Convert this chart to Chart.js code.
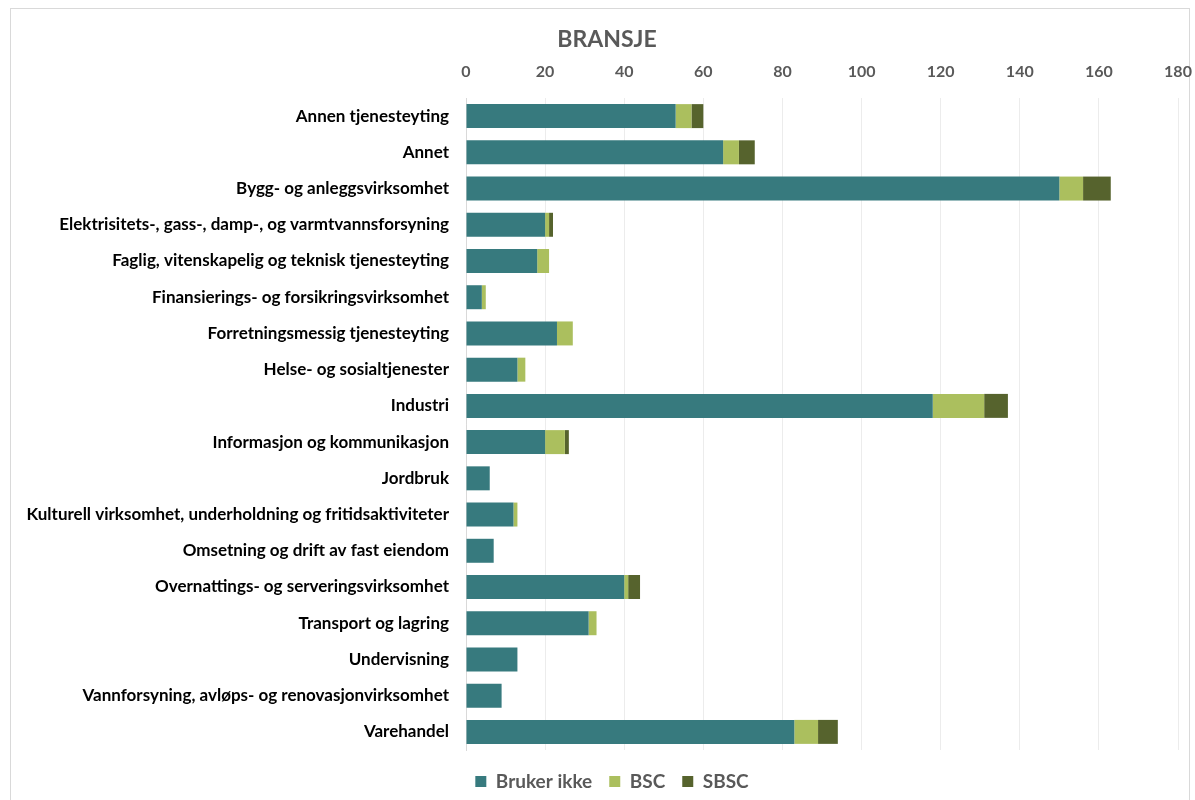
<!DOCTYPE html>
<html>
<head>
<meta charset="utf-8">
<script src="https://cdn.jsdelivr.net/npm/chart.js@4"></script>
<style>
  body { margin: 0; background: #fff; }
  #frame { position: absolute; left: 10px; top: 8px; width: 1178px; height: 800px; border: 1px solid #d9d9d9; }
  #wrap { position: absolute; left: 0; top: 0; width: 1195px; height: 800px; }
</style>
</head>
<body>
<div id="frame"></div>
<div id="wrap"><canvas id="bransjeChart"></canvas></div>
<script>
// data
const categories = [
    'Annen tjenesteyting',
    'Annet',
    'Bygg- og anleggsvirksomhet',
    'Elektrisitets-, gass-, damp-, og varmtvannsforsyning',
    'Faglig, vitenskapelig og teknisk tjenesteyting',
    'Finansierings- og forsikringsvirksomhet',
    'Forretningsmessig tjenesteyting',
    'Helse- og sosialtjenester',
    'Industri',
    'Informasjon og kommunikasjon',
    'Jordbruk',
    'Kulturell virksomhet, underholdning og fritidsaktiviteter',
    'Omsetning og drift av fast eiendom',
    'Overnattings- og serveringsvirksomhet',
    'Transport og lagring',
    'Undervisning',
    'Vannforsyning, avløps- og renovasjonvirksomhet',
    'Varehandel'
];
const brukerIkke = [53, 65, 150, 20, 18, 4, 23, 13, 118, 20, 6, 12, 7, 40, 31, 13, 9, 83];
const bsc = [4, 4, 6, 1, 3, 1, 4, 2, 13, 5, 0, 1, 0, 1, 2, 0, 0, 6];
const sbsc = [3, 4, 7, 1, 0, 0, 0, 0, 6, 1, 0, 0, 0, 3, 0, 0, 0, 5];
const xTicks = [0, 20, 40, 60, 80, 100, 120, 140, 160, 180];

const gray = '#595959';
const fontFamily = 'Lato, "Open Sans", sans-serif';

// fixed legend height so the legend sits a bit below the plot
const legendSpacer = {
    id: 'legendSpacer',
    beforeInit(chart) {
        const origFit = chart.legend.fit;
        chart.legend.fit = function () {
            origFit.bind(chart.legend)();
            this.height = 48;
        };
    },
    // title and legend sit a little right of the canvas centre
    afterLayout(chart) {
        if (chart.titleBlock) {
            chart.titleBlock.left += 12;
            chart.titleBlock.right += 12;
        }
        chart.legend.left += 17;
        chart.legend.right += 17;
        chart.legend.top += 5;
        chart.legend.bottom += 5;
    }
};

document.addEventListener('DOMContentLoaded', () => {
    const ctx = document.getElementById('bransjeChart').getContext('2d');
    new Chart(ctx, {
        type: 'bar',
        data: {
            labels: categories,
            datasets: [
                { label: 'Bruker ikke', data: brukerIkke, backgroundColor: '#377A7E' },
                { label: 'BSC', data: bsc, backgroundColor: '#ABBF5E' },
                { label: 'SBSC', data: sbsc, backgroundColor: '#56632D' }
            ]
        },
        options: {
            indexAxis: 'y',
            responsive: true,
            maintainAspectRatio: false,
            animation: false,
            barPercentage: 0.662,
            categoryPercentage: 1,
            layout: { padding: { left: 12, right: 17, top: 26, bottom: 2 } },
            scales: {
                x: {
                    position: 'top',
                    stacked: true,
                    min: 0,
                    max: 180,
                    afterBuildTicks: (s) => { s.ticks = xTicks.map(v => ({ value: v })); },
                    afterFit: (s) => { s.height = 44.4; s.paddingRight = 0; },
                    border: { display: false },
                    grid: { color: '#ececec', drawTicks: false },
                    ticks: {
                        padding: 17,
                        color: gray,
                        font: { family: fontFamily, size: 16, weight: 'bold' }
                    }
                },
                y: {
                    stacked: true,
                    afterFit: (s) => { s.width = 454; },
                    border: { color: '#d9d9d9' },
                    grid: { display: false },
                    ticks: {
                        padding: 9,
                        color: '#000',
                        autoSkip: false,
                        font: { family: fontFamily, size: 17, weight: 'bold' }
                    }
                }
            },
            plugins: {
                title: {
                    display: true,
                    text: 'BRANSJE',
                    color: gray,
                    padding: 0,
                    font: { family: fontFamily, size: 23, weight: 'bold' }
                },
                legend: {
                    position: 'bottom',
                    labels: {
                        boxWidth: 11,
                        boxHeight: 11,
                        padding: 17,
                        color: gray,
                        font: { family: fontFamily, size: 19, weight: 'bold' }
                    }
                },
                tooltip: { enabled: false }
            }
        },
        plugins: [legendSpacer]
    });
});
</script>
</body>
</html>
